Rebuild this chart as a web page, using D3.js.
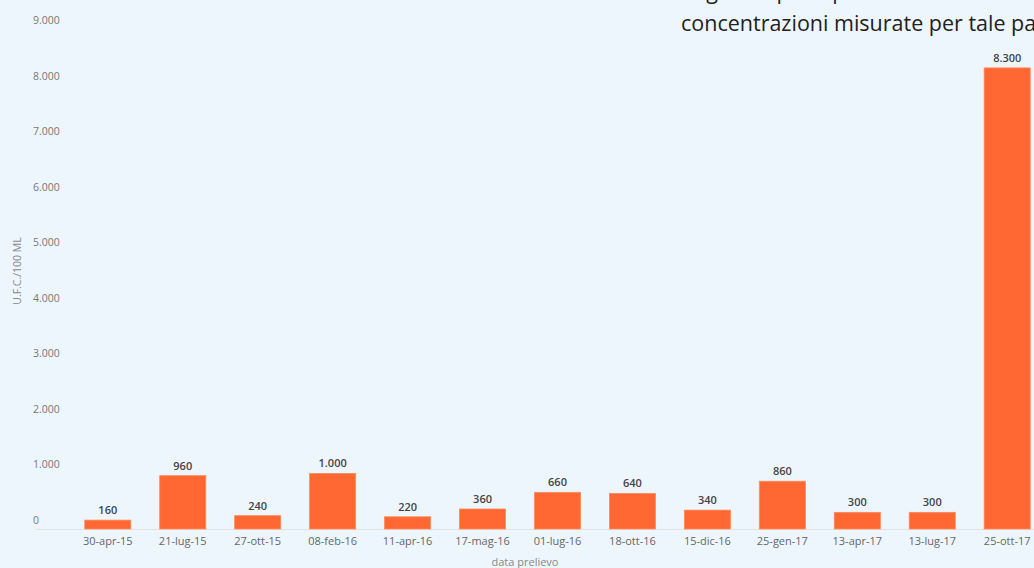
<!DOCTYPE html>
<html><head><meta charset="utf-8">
<script src="https://cdn.jsdelivr.net/npm/d3@7"></script>
<style>
html,body{margin:0;padding:0;background:#eef6fd;}
svg{display:block;}
</style></head>
<body>
<svg id="c" width="1034" height="568"></svg>
<script>
const categories = ["30-apr-15","21-lug-15","27-ott-15","08-feb-16","11-apr-16","17-mag-16","01-lug-16","18-ott-16","15-dic-16","25-gen-17","13-apr-17","13-lug-17","25-ott-17"];
const values = [160,960,240,1000,220,360,660,640,340,860,300,300,8300];
const yTicks = [0,1000,2000,3000,4000,5000,6000,7000,8000,9000];
const titleLines = ["negli campioni prelevati e le","concentrazioni misurate per tale parametro"];
const yTitle = "U.F.C./100 ML";
const xTitle = "data prelievo";

const svg = d3.select("#c");
const W = 1034, H = 568;
svg.append("rect").attr("width",W).attr("height",H).attr("fill","#eef6fd");

const fmt = v => d3.format(",")(v).replace(/,/g,".");

const x = d3.scaleBand().domain(categories).range([70.5,1044.5]).paddingInner(0.385).paddingOuter(0.19);
const y = d3.scaleLinear().domain([0,9000]).range([529,29]);

// baseline
svg.append("line").attr("x1",36).attr("x2",W).attr("y1",y(0)+0.5).attr("y2",y(0)+0.5)
  .attr("stroke","#e6e0dc").attr("stroke-width",1);

// y tick labels
svg.append("g").selectAll("text").data(yTicks).join("text")
  .attr("x",33).attr("y",d=>y(d)-5)
  .attr("font-family","Open Sans, sans-serif").attr("font-size",10.5)
  .attr("fill","#777").text(fmt);

// bars
svg.append("g").selectAll("rect").data(values).join("rect")
  .attr("x",(d,i)=>x(categories[i])).attr("width",x.bandwidth())
  .attr("y",d=>y(d)).attr("height",d=>y(0)-y(d))
  .attr("fill","#ff6833").attr("stroke","#ff8a5c").attr("stroke-width",0.8);

// value labels
svg.append("g").selectAll("text").data(values).join("text")
  .attr("x",(d,i)=>x(categories[i])+x.bandwidth()/2).attr("y",d=>y(d)-6)
  .attr("text-anchor","middle")
  .attr("font-family","Open Sans, sans-serif").attr("font-size",11).attr("font-weight",600)
  .attr("fill","#444").text(fmt);

// x axis labels
svg.append("g").selectAll("text").data(categories).join("text")
  .attr("x",d=>x(d)+x.bandwidth()/2).attr("y",545)
  .attr("text-anchor","middle")
  .attr("font-family","Open Sans, sans-serif").attr("font-size",11)
  .attr("fill","#666").text(d=>d);

// axis titles
svg.append("text").attr("x",525).attr("y",566).attr("text-anchor","middle")
  .attr("font-family","Open Sans, sans-serif").attr("font-size",11)
  .attr("fill","#888").text(xTitle);
svg.append("text").attr("transform","translate(21,271) rotate(-90)").attr("text-anchor","middle")
  .attr("font-family","Open Sans, sans-serif").attr("font-size",10.5)
  .attr("fill","#888").text(yTitle);

// title text (cropped by the frame, as in the reference)
svg.append("g").selectAll("text").data(titleLines).join("text")
  .attr("x",681).attr("y",(d,i)=>-1+i*32)
  .attr("font-family","Open Sans, sans-serif").attr("font-size",21.5)
  .attr("fill","#222").text(d=>d);
</script>
</body></html>
